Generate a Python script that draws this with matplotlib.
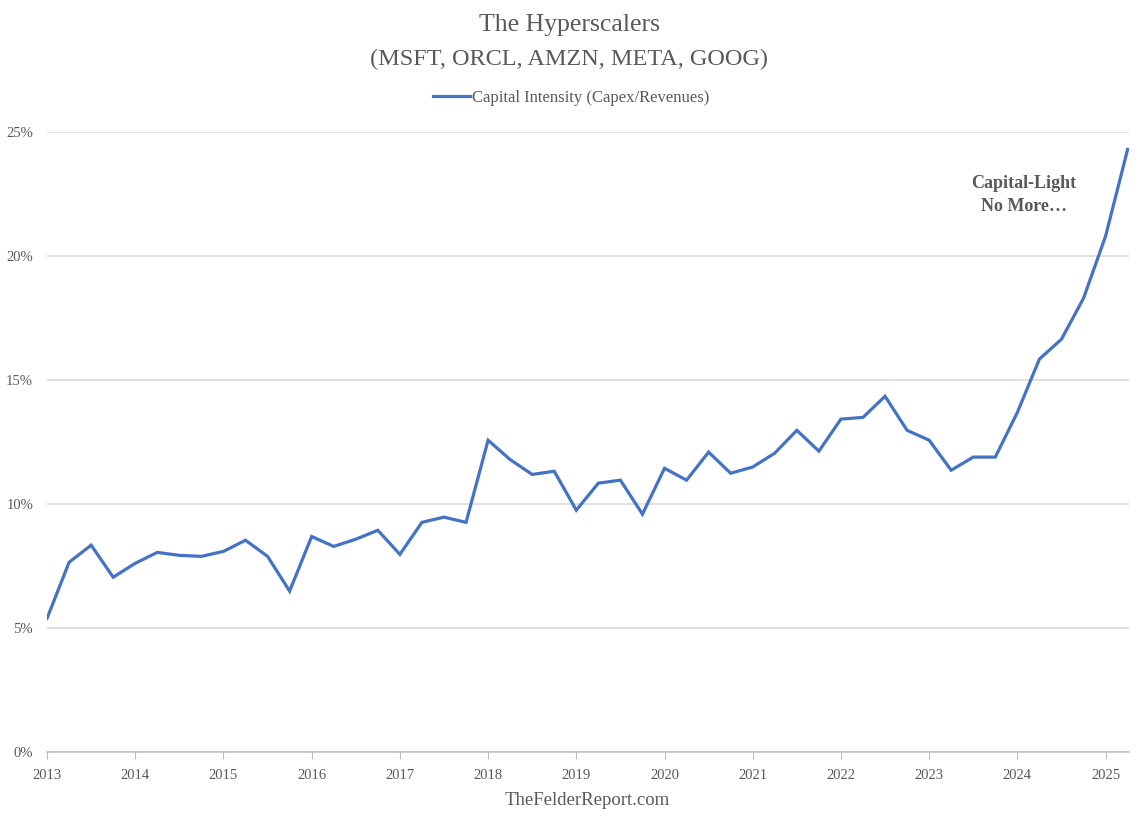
import numpy as np
import matplotlib.pyplot as plt
from matplotlib.ticker import FuncFormatter

# quarterly capital intensity, Q1 2013 .. Q2 2025 (percent)
start_year = 2013
capex_pct = [
    5.4, 7.66, 8.35, 7.06,
    7.62, 8.06, 7.94, 7.9,
    8.1, 8.55, 7.9, 6.5,
    8.7, 8.3, 8.59, 8.95,
    7.98, 9.27, 9.48, 9.27,
    12.58, 11.8, 11.2, 11.33,
    9.76, 10.85, 10.97, 9.6,
    11.45, 10.97, 12.1, 11.25,
    11.5, 12.06, 12.98, 12.14,
    13.43, 13.5, 14.35, 12.98,
    12.58, 11.37, 11.9, 11.9,
    13.7, 15.85, 16.65, 18.3,
    20.8, 24.3,
]
years = list(range(2013, 2026))
yticks = [0, 5, 10, 15, 20, 25]

x = start_year + np.arange(len(capex_pct)) * 0.25

gray = '#595959'
plt.rcParams['font.family'] = ['Liberation Serif', 'DejaVu Serif']

fig = plt.figure(figsize=(11.36, 8.25), dpi=100)
ax = fig.add_axes([0.0414, 0.088, 0.952, 0.752])

ax.plot(x, capex_pct, color='#4472C4', lw=2.3, label='Capital Intensity (Capex/Revenues)',
        solid_joinstyle='miter')

ax.set_xlim(x[0], x[-1] + 0.01)
ax.set_ylim(0, 25)
ax.set_yticks(yticks)
ax.yaxis.set_major_formatter(FuncFormatter(lambda v, p: f'{v:.0f}%'))
ax.set_xticks(years)
ax.set_xticklabels([str(y) for y in years])

ax.grid(axis='y', color='#d9d9d9', lw=1.1)
ax.set_axisbelow(True)
for s in ['left', 'right', 'top']:
    ax.spines[s].set_visible(False)
ax.spines['bottom'].set_color('#bfbfbf')
ax.spines['bottom'].set_linewidth(1.1)

ax.tick_params(axis='y', length=0, pad=10, labelsize=10.5, labelcolor=gray)
ax.tick_params(axis='x', length=5, color='#bfbfbf', pad=7, labelsize=10.5, labelcolor=gray)

fig.text(0.501, 0.970, 'The Hyperscalers', ha='center', va='center', fontsize=18.5, color=gray)
fig.text(0.501, 0.928, '(MSFT, ORCL, AMZN, META, GOOG)', ha='center', va='center',
         fontsize=17.5, color=gray)

leg = fig.legend(loc='center', bbox_to_anchor=(0.503, 0.881), frameon=False, fontsize=12,
                 handlelength=2.2, handletextpad=0.15)
for t in leg.get_texts():
    t.set_color(gray)

ax.text(2024.07, 22.45, 'Capital-Light\nNo More\u2026', ha='center', va='center',
        fontsize=13, fontweight='bold', color=gray, linespacing=1.45)

fig.text(0.517, 0.03, 'TheFelderReport.com', ha='center', va='center', fontsize=13.5, color=gray)

fig.savefig('out.png', dpi=100)
